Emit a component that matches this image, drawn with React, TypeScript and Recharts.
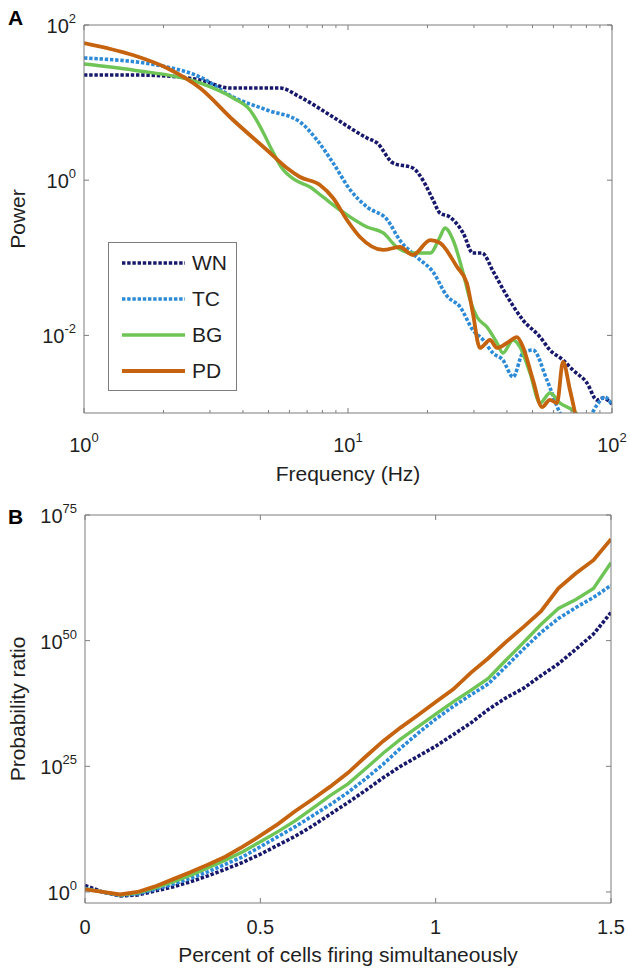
import { LineChart, Line, XAxis, YAxis } from "recharts"

// Panel A: power spectra as (Hz, log10 power)
const wnFreq = [1, 1.53, 2.06, 2.75, 3.57, 5.53, 6.58, 8.78, 11.8, 12.9, 14.8, 17.6, 19.2, 21.0, 22.3, 24.3, 27.3, 29.7, 32.2, 35.4, 40.0, 46.0, 53.4, 58.2, 65.2, 71.1, 80.4, 87.7, 92.4, 100]
const wnLogPower = [1.356, 1.356, 1.343, 1.291, 1.188, 1.188, 1.072, 0.814, 0.544, 0.479, 0.222, 0.157, 0.003, -0.255, -0.423, -0.474, -0.68, -0.938, -0.938, -1.17, -1.492, -1.802, -2.021, -2.188, -2.317, -2.446, -2.613, -2.832, -2.807, -2.884]

const tcFreq = [1, 2.06, 2.75, 3.67, 4.93, 6.58, 7.63, 8.78, 10.2, 11.8, 14.1, 15.7, 18.2, 21.0, 23.7, 26.6, 29.7, 32.5, 35.4, 38.6, 42.2, 46.0, 50.2, 56.7, 63.5, 69.3, 79.0, 87.7, 94.0, 100]
const tcLogPower = [1.575, 1.459, 1.33, 1.072, 0.905, 0.75, 0.518, 0.222, -0.126, -0.345, -0.513, -0.771, -0.99, -1.183, -1.492, -1.634, -1.93, -2.059, -2.227, -2.317, -2.536, -2.227, -2.188, -2.575, -3.0, -3.22, -3.15, -2.897, -2.794, -2.897]

const bgFreq = [1, 1.53, 2.75, 3.67, 4.25, 4.72, 5.15, 5.62, 6.3, 7.18, 8.04, 9.33, 11.8, 13.6, 15.3, 17.6, 20.5, 22.3, 23.3, 25.0, 27.3, 29.0, 30.8, 33.6, 36.7, 38.6, 42.2, 44.8, 48.9, 53.4, 58.2, 63.5, 72.4, 79.0]
const bgLogPower = [1.497, 1.42, 1.253, 1.059, 0.905, 0.647, 0.389, 0.157, 0.003, -0.088, -0.216, -0.384, -0.603, -0.68, -0.861, -0.938, -0.938, -0.732, -0.616, -0.771, -1.196, -1.544, -1.763, -1.892, -2.098, -2.227, -2.059, -2.149, -2.485, -2.871, -2.742, -2.871, -2.987, -3.15]

const pdFreq = [1, 1.53, 2.06, 2.75, 3.67, 4.93, 5.87, 6.58, 7.83, 8.78, 9.91, 11.1, 13.6, 15.7, 17.6, 20.5, 22.3, 25.9, 28.2, 29.7, 31.6, 34.5, 36.7, 40.0, 43.6, 46.0, 50.2, 54.3, 58.2, 61.9, 65.2, 69.3, 72.4, 74.3]
const pdLogPower = [1.768, 1.613, 1.446, 1.188, 0.776, 0.389, 0.157, 0.041, -0.062, -0.229, -0.513, -0.732, -0.899, -0.861, -0.964, -0.771, -0.809, -1.119, -1.325, -1.711, -2.162, -2.059, -2.162, -2.098, -2.021, -2.149, -2.575, -2.923, -2.832, -2.871, -2.343, -2.704, -3.0, -3.22]

const freqTicks = [1, 2, 3, 4, 5, 6, 7, 8, 9, 10, 20, 30, 40, 50, 60, 70, 80, 90, 100]
const powerTicks = [0.01, 1, 100]

// Panel B: log10 probability ratio vs percent of cells firing
const pctCells = [0, 0.05, 0.1, 0.15, 0.2, 0.25, 0.3, 0.35, 0.4, 0.45, 0.5, 0.55, 0.6, 0.65, 0.7, 0.75, 0.8, 0.85, 0.9, 0.95, 1, 1.05, 1.1, 1.15, 1.2, 1.25, 1.3, 1.35, 1.4, 1.45, 1.5]
const wnLogRatio = [1.3, 0.0, -0.8, -0.6, 0.2, 1.0, 2.0, 3.2, 4.5, 5.9, 7.5, 9.3, 11.1, 13.2, 15.5, 17.8, 20.2, 22.7, 25.0, 27.0, 29.0, 31.3, 33.6, 36.3, 38.6, 40.5, 43.0, 45.4, 48.3, 51.3, 55.6]
const tcLogRatio = [0.7, 0.0, -0.7, -0.4, 0.5, 1.5, 2.7, 4.0, 5.5, 7.0, 9.0, 11.0, 13.0, 15.2, 17.4, 19.8, 22.5, 25.4, 28.6, 31.6, 34.4, 36.9, 39.2, 41.4, 44.8, 48.3, 51.6, 54.4, 56.6, 58.6, 61.0]
const bgLogRatio = [0.6, 0.0, -0.6, -0.2, 0.8, 2.0, 3.3, 4.8, 6.3, 8.0, 10.0, 12.0, 14.2, 16.7, 19.2, 21.5, 24.5, 27.6, 30.4, 32.9, 35.4, 37.8, 40.1, 42.5, 46.1, 49.6, 53.2, 56.4, 58.2, 60.4, 65.5]
const pdLogRatio = [0.5, 0.0, -0.5, 0.0, 1.1, 2.5, 3.9, 5.4, 7.0, 9.0, 11.2, 13.5, 16.1, 18.5, 21.0, 23.7, 26.9, 30.0, 32.7, 35.2, 37.8, 40.3, 43.6, 46.5, 49.7, 52.7, 55.8, 60.4, 63.4, 66.0, 70.2]

const pctTicks = [0, 0.5, 1, 1.5]
const ratioTicks = [1, 1e25, 1e50, 1e75]

const SERIES = [
  { key: "WN", color: "#17186b", width: 3.6, dash: "3.4 1.8" },
  { key: "TC", color: "#2d8ad6", width: 3.6, dash: "3.4 1.8" },
  { key: "BG", color: "#6ec455", width: 3.4, dash: undefined },
  { key: "PD", color: "#c5630f", width: 3.8, dash: undefined },
]

const toSpectrum = (freq: number[], logP: number[]) =>
  freq.map((f, i) => ({ f, p: Math.pow(10, logP[i]) }))

const spectra: Record<string, { f: number; p: number }[]> = {
  WN: toSpectrum(wnFreq, wnLogPower),
  TC: toSpectrum(tcFreq, tcLogPower),
  BG: toSpectrum(bgFreq, bgLogPower),
  PD: toSpectrum(pdFreq, pdLogPower),
}

const ratioRows = pctCells.map((x, i) => ({
  x,
  WN: Math.pow(10, wnLogRatio[i]),
  TC: Math.pow(10, tcLogRatio[i]),
  BG: Math.pow(10, bgLogRatio[i]),
  PD: Math.pow(10, pdLogRatio[i]),
}))

const AXIS = "#7d7d7d"
const INK = "#1f1f1f"
const FONT = '"Liberation Sans", Arial, Helvetica, sans-serif'

const isDecade = (v: number) => Math.abs(Math.log10(v) - Math.round(Math.log10(v))) < 1e-9

function Pow10({ x, y, exp, anchor }: { x: number; y: number; exp: number; anchor: "middle" | "end" }) {
  return (
    <text x={x} y={y} textAnchor={anchor} fontSize={20} fontFamily={FONT} fill={INK}>
      10
      <tspan dy={-10} fontSize={13}>
        {String(exp)}
      </tspan>
    </text>
  )
}

type Side = "left" | "right" | "top" | "bottom"
type Kind = "freq" | "pow" | "pct" | "none"

// tick line drawn inward (matlab box style); label only when showLabel
function renderTick(side: Side, kind: Kind, showLabel = true) {
  return (props: any) => {
    const { x, y, payload } = props
    const v: number = payload.value
    const major = kind === "freq" ? isDecade(v) : true
    const len = major ? 5 : 3
    const dx = side === "left" ? len : side === "right" ? -len : 0
    const dy = side === "bottom" ? -len : side === "top" ? len : 0
    let label = null
    if (showLabel) {
      if (kind === "freq" && major) {
        label = <Pow10 x={x} y={y + 39} exp={Math.round(Math.log10(v))} anchor="middle" />
      } else if (kind === "pow") {
        label = <Pow10 x={x - 8} y={y + 8} exp={Math.round(Math.log10(v))} anchor="end" />
      } else if (kind === "pct") {
        label = (
          <text x={x} y={y + 31} textAnchor="middle" fontSize={20} fontFamily={FONT} fill={INK}>
            {String(v)}
          </text>
        )
      }
    }
    return (
      <g>
        <line x1={x} y1={y} x2={x + dx} y2={y + dy} stroke={AXIS} strokeWidth={1} />
        {label}
      </g>
    )
  }
}

const axisCommon = {
  tickSize: 0,
  tickMargin: 0,
  tickLine: false,
  interval: 0 as const,
  allowDataOverflow: true,
  axisLine: { stroke: AXIS, strokeWidth: 1 },
}

function SpectrumChart() {
  return (
    <LineChart width={630} height={500} margin={{ top: 24, right: 17, bottom: 27, left: 0 }}>
      <XAxis xAxisId="b" dataKey="f" type="number" scale="log" domain={[1, 100]} ticks={freqTicks} height={60} tick={renderTick("bottom", "freq")} {...axisCommon} />
      <XAxis xAxisId="t" orientation="top" dataKey="f" type="number" scale="log" domain={[1, 100]} ticks={freqTicks} height={1} tick={renderTick("top", "freq", false)} {...axisCommon} />
      <YAxis yAxisId="l" type="number" scale="log" domain={[0.001, 100]} ticks={powerTicks} width={84} tick={renderTick("left", "pow")} {...axisCommon} />
      <YAxis yAxisId="r" orientation="right" type="number" scale="log" domain={[0.001, 100]} ticks={powerTicks} width={1} tick={renderTick("right", "pow", false)} {...axisCommon} />
      {SERIES.map((s) => (
        <Line
          key={s.key}
          xAxisId="b"
          yAxisId="l"
          data={spectra[s.key]}
          dataKey="p"
          name={s.key}
          type="monotone"
          stroke={s.color}
          strokeWidth={s.width}
          strokeDasharray={s.dash}
          strokeLinecap="butt"
          dot={false}
          activeDot={false}
          isAnimationActive={false}
        />
      ))}
    </LineChart>
  )
}

function RatioChart() {
  return (
    <LineChart width={630} height={481} data={ratioRows} margin={{ top: 24, right: 18, bottom: 8, left: 0 }}>
      <XAxis xAxisId="b" dataKey="x" type="number" domain={[0, 1.5]} ticks={pctTicks} height={60} tick={renderTick("bottom", "pct")} {...axisCommon} />
      <XAxis xAxisId="t" orientation="top" dataKey="x" type="number" domain={[0, 1.5]} ticks={pctTicks} height={1} tick={renderTick("top", "pct", false)} {...axisCommon} />
      <YAxis yAxisId="l" type="number" scale="log" domain={[Math.pow(10, -2.2), 1e75]} ticks={ratioTicks} width={85} tick={renderTick("left", "pow")} {...axisCommon} />
      <YAxis yAxisId="r" orientation="right" type="number" scale="log" domain={[Math.pow(10, -2.2), 1e75]} ticks={ratioTicks} width={1} tick={renderTick("right", "pow", false)} {...axisCommon} />
      {SERIES.map((s) => (
        <Line
          key={s.key}
          xAxisId="b"
          yAxisId="l"
          dataKey={s.key}
          name={s.key}
          type="linear"
          stroke={s.color}
          strokeWidth={s.width}
          strokeDasharray={s.dash}
          strokeLinecap="butt"
          dot={false}
          activeDot={false}
          isAnimationActive={false}
        />
      ))}
    </LineChart>
  )
}

function Overlay() {
  const title = { fontSize: 21, fontFamily: FONT, fill: INK }
  return (
    <svg width={630} height={971} style={{ position: "absolute", left: 0, top: 0, pointerEvents: "none" }}>
      <text x={8} y={25} fontSize={21} fontWeight="bold" fontFamily={FONT} fill="#000">A</text>
      <text x={8} y={524} fontSize={21} fontWeight="bold" fontFamily={FONT} fill="#000">B</text>
      <text transform="translate(25,219) rotate(-90)" textAnchor="middle" {...title}>Power</text>
      <text x={348} y={481} textAnchor="middle" {...title}>Frequency (Hz)</text>
      <text transform="translate(25,709) rotate(-90)" textAnchor="middle" {...title}>Probability ratio</text>
      <text x={348} y={962} textAnchor="middle" {...title}>Percent of cells firing simultaneously</text>

      <rect x={108.5} y={242.5} width={128} height={148} fill="#fff" stroke={AXIS} strokeWidth={1} />
      {SERIES.map((s, i) => {
        const cy = 263 + i * 36
        return (
          <g key={s.key}>
            <line x1={122} x2={185} y1={cy} y2={cy} stroke={s.color} strokeWidth={s.width} strokeDasharray={s.dash} />
            <text x={192} y={cy + 7} {...title}>{s.key}</text>
          </g>
        )
      })}
    </svg>
  )
}

export default function App() {
  return (
    <div style={{ position: "absolute", left: 0, top: 0, width: 630, height: 971, background: "#fff" }}>
      <div style={{ position: "absolute", left: 0, top: 0 }}>
        <SpectrumChart />
      </div>
      <div style={{ position: "absolute", left: 0, top: 490 }}>
        <RatioChart />
      </div>
      <Overlay />
    </div>
  )
}
